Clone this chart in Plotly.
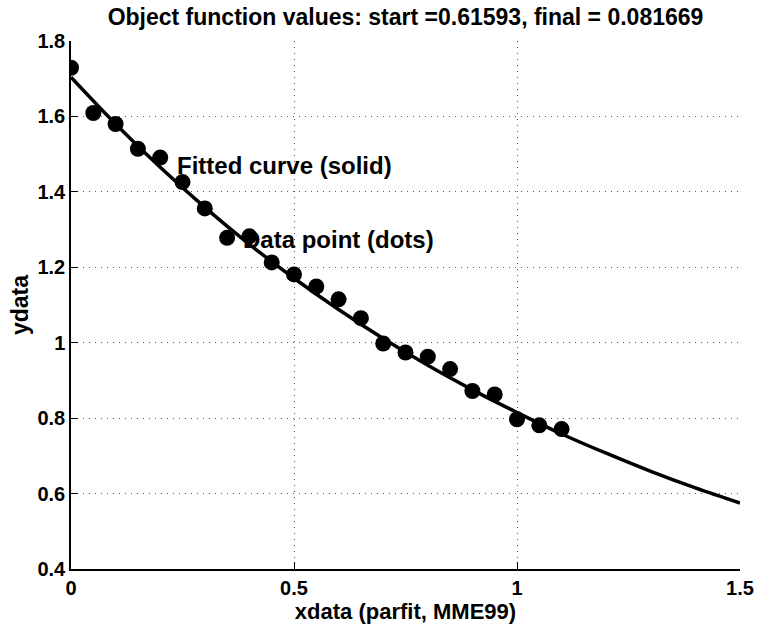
import plotly.graph_objects as go

# Data points (dots)
xdata = [0.00, 0.05, 0.10, 0.15, 0.20, 0.25, 0.30, 0.35, 0.40, 0.45, 0.50, 0.55,
         0.60, 0.65, 0.70, 0.75, 0.80, 0.85, 0.90, 0.95, 1.00, 1.05, 1.10]
ydata = [1.729, 1.609, 1.580, 1.514, 1.491, 1.426, 1.356, 1.278, 1.282, 1.213, 1.181, 1.149,
         1.115, 1.065, 0.998, 0.974, 0.963, 0.930, 0.872, 0.863, 0.797, 0.781, 0.771]

# Fitted curve (solid)
xfit = [0.0, 0.1, 0.2, 0.3, 0.4, 0.5, 0.6, 0.7, 0.8, 0.9, 1.0, 1.1, 1.2, 1.3, 1.4, 1.5]
yfit = [1.704, 1.580, 1.465, 1.359, 1.261, 1.171, 1.088, 1.011, 0.940, 0.875,
        0.815, 0.758, 0.707, 0.659, 0.615, 0.575]

xticks = [0, 0.5, 1, 1.5]
xticklabels = ["0", "0.5", "1", "1.5"]
yticks = [0.4, 0.6, 0.8, 1.0, 1.2, 1.4, 1.6, 1.8]
yticklabels = ["0.4", "0.6", "0.8", "1", "1.2", "1.4", "1.6", "1.8"]

title_text = "Object function values: start =0.61593, final = 0.081669"
xlabel = "xdata (parfit, MME99)"
ylabel = "ydata"

FONT = "Liberation Sans, Arial, Helvetica, sans-serif"

fig = go.Figure()
fig.add_trace(go.Scatter(x=xfit, y=yfit, mode="lines",
                         line=dict(color="black", width=3.5, shape="spline"),
                         showlegend=False, hoverinfo="skip"))
fig.add_trace(go.Scatter(x=xdata, y=ydata, mode="markers",
                         marker=dict(color="black", size=16, line=dict(width=0)),
                         showlegend=False))

fig.add_annotation(x=0.233, y=1.47, text="Fitted curve (solid)", showarrow=False,
                   xanchor="left", yanchor="middle",
                   font=dict(family=FONT, size=24, color="black", weight="bold"))
fig.add_annotation(x=0.381, y=1.273, text="Data point (dots)", showarrow=False,
                   xanchor="left", yanchor="middle",
                   font=dict(family=FONT, size=24, color="black", weight="bold"))

axis_common = dict(
    showline=True, linecolor="black", linewidth=1.5,
    ticks="inside", ticklen=7, tickcolor="black", tickwidth=1,
    showgrid=True, gridcolor="#555555", gridwidth=1, griddash="1px,5px",
    zeroline=False, mirror=False,
    tickfont=dict(family=FONT, size=20, color="black", weight="bold"),
)

fig.update_xaxes(range=[0, 1.5], tickvals=xticks, ticktext=xticklabels,
                 title=dict(text=xlabel, standoff=4,
                            font=dict(family=FONT, size=22, color="black", weight="bold")),
                 **axis_common)
fig.update_yaxes(range=[0.4, 1.8], tickvals=yticks, ticktext=yticklabels,
                 title=dict(text=ylabel, standoff=2,
                            font=dict(family=FONT, size=23, color="black", weight="bold")),
                 **axis_common)

fig.update_layout(
    width=758, height=624,
    margin=dict(l=71, r=18, t=41, b=55, autoexpand=False),
    paper_bgcolor="white", plot_bgcolor="white",
    title=dict(text=title_text, x=(71 + 740) / 2 / 758, xanchor="center",
               y=1 - 17 / 624, yanchor="middle",
               font=dict(family=FONT, size=23, color="black", weight="bold")),
)

fig.write_html(
    "out.html",
    config={"displayModeBar": False},
    post_script="document.body.style.margin='0';document.body.style.overflow='hidden';",
)
